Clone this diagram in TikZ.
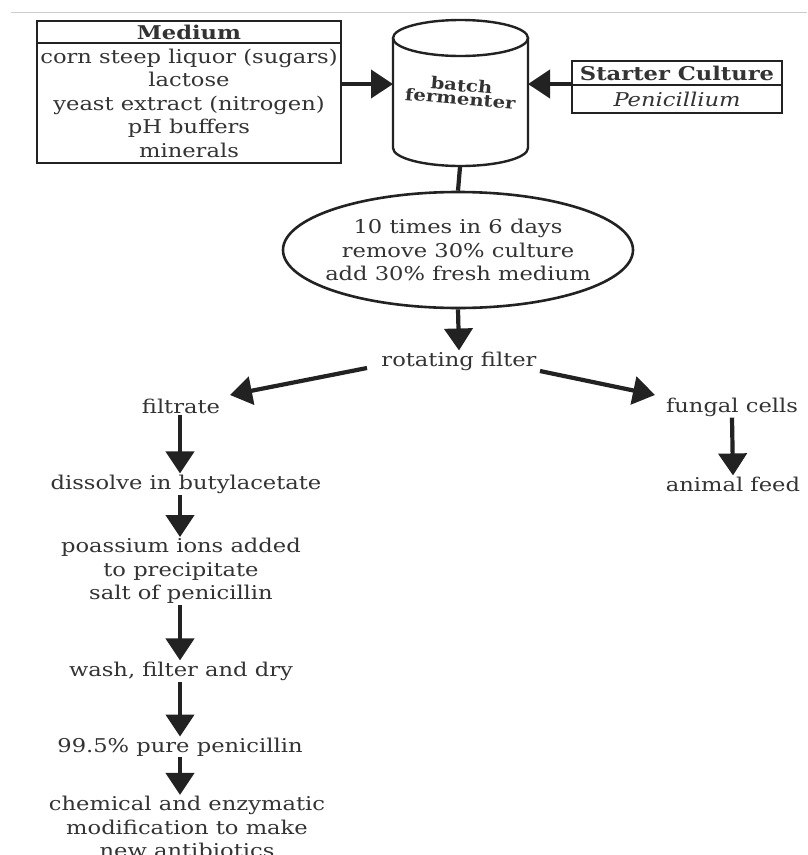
\documentclass[tikz,border=0pt]{standalone}
\usepackage{fontspec}
\setmainfont{DejaVu Serif}[FakeStretch=1.19]
\usetikzlibrary{arrows.meta,shapes.geometric}
\definecolor{ink}{HTML}{222222}
\definecolor{txt}{HTML}{333333}
\tikzset{
  flow/.style={draw=ink, line width=4.2pt, -{Triangle[length=22pt,width=28pt]}},
  plain/.style={draw=ink, line width=4.2pt},
  lbl/.style={text=txt, font=\fontsize{19}{23.5}\selectfont, align=center, inner sep=1pt},
  boxline/.style={draw=ink, line width=2.8pt},
}
\begin{document}
\begin{tikzpicture}[x=1pt,y=-1pt]
\useasboundingbox (0,0) rectangle (807,855);
\clip (0,0) rectangle (807,855);
\fill[white] (0,0) rectangle (807,855);
\draw[gray!40, line width=1pt] (11,12) -- (807,12);
% Medium box
\draw[boxline] (37,21) rectangle (341,163);
\draw[boxline] (37,43) -- (341,43);
\node[lbl, font=\bfseries\fontsize{19}{23}\selectfont] (medh) at (189,32) {Medium};
\node[lbl] (med) at (189,103) {corn steep liquor (sugars)\\lactose\\yeast extract (nitrogen)\\pH buffers\\minerals};
\coordinate (medr) at (341,84);
% fermenter cylinder
\draw[ink, line width=2.4pt] (393,38) -- (393,148) arc[start angle=180,end angle=0,x radius=67.5,y radius=18] -- (528,38);
\draw[ink, line width=2.4pt] (460.5,38) ellipse[x radius=67.5,y radius=18];
\node[lbl, font=\bfseries\fontsize{16.5}{13.5}\selectfont, rotate=-5] (ferm) at (461,92) {batch\\fermenter};
\coordinate (cylL) at (393,84);
\coordinate (cylR) at (528,84);
\coordinate (cylB) at (460,167);
% starter culture
\draw[boxline] (572,61) rectangle (782,113);
\draw[boxline] (572,85) -- (782,85);
\node[lbl, font=\bfseries\fontsize{19}{23}\selectfont] (sch) at (677,73) {Starter Culture};
\node[lbl, font=\itshape\fontsize{19}{23}\selectfont] (scp) at (677,99) {Penicillium};
\coordinate (scl) at (572,84);
% arrows into fermenter
\draw[flow] (medr) -- (cylL);
\draw[flow] (scl) -- (cylR);
% ellipse
\node[draw=ink, line width=2.6pt, ellipse, inner sep=0pt, minimum width=350pt, minimum height=116pt] (ell) at (458,250) {};
\node[lbl] (elltxt) at (ell.center) {10 times in 6 days\\remove 30\% culture\\add 30\% fresh medium};
\draw[plain] (cylB) -- (ell.north);
% rotating filter
\node[lbl] (rot) at (459,361) {rotating filter};
\draw[flow] (ell.south) -- (rot.north);
\node[lbl] (filt) at (181,406) {filtrate};
\node[lbl] (fung) at (732,407) {fungal cells};
\coordinate (rotL) at (367,368);
\coordinate (rotR) at (540,371);
\coordinate (filtT) at (230,395);
\coordinate (fungT) at (655,395);
\draw[flow] (rotL) -- (filtT);
\draw[flow] (rotR) -- (fungT);
\node[lbl] (feed) at (733,484) {animal feed};
\draw[flow] (fung.south) -- (feed.north);
% left column
\node[lbl] (diss) at (186,484) {dissolve in butylacetate};
\node[lbl] (pot) at (181,571) {poassium ions added\\to precipitate\\salt of penicillin};
\node[lbl] (wash) at (181,671) {wash, filter and dry};
\node[lbl] (pure) at (180,747) {99.5\% pure penicillin};
\node[lbl] (chem) at (187,827) {chemical and enzymatic\\modification to make\\new antibiotics};
\draw[flow] (filt.south -| 180,0) -- (diss.north -| 180,0);
\draw[flow] (diss.south -| 180,0) -- (pot.north -| 180,0);
\draw[flow] (pot.south -| 180,0) -- (wash.north -| 180,0);
\draw[flow] (wash.south -| 180,0) -- (pure.north -| 180,0);
\draw[flow] (pure.south -| 180,0) -- (chem.north -| 180,0);
\end{tikzpicture}
\end{document}
